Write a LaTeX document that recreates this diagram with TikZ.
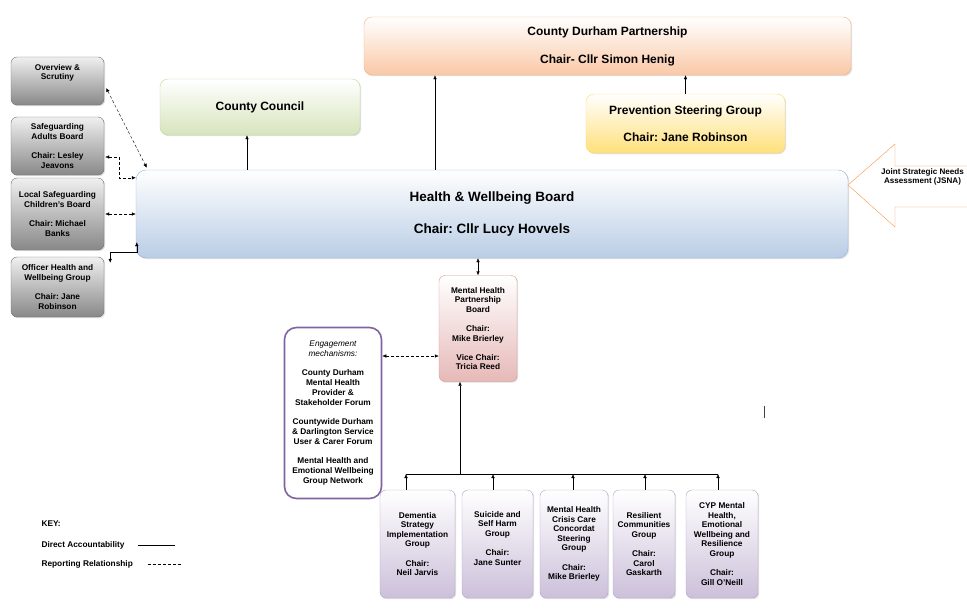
\documentclass[tikz,border=0pt]{standalone}
\usepackage{fontspec}
\setmainfont{Liberation Sans}
\usepackage{tikz}
\usetikzlibrary{arrows.meta, positioning, calc, shadows}
\frenchspacing
\definecolor{hwbblue}{HTML}{B9CDE5}
\definecolor{hwbline}{HTML}{95B3D7}
\definecolor{ccgreen}{HTML}{D7E4BD}
\definecolor{ccline}{HTML}{C3D69B}
\definecolor{cdporange}{HTML}{FAC8A6}
\definecolor{cdpline}{HTML}{F4B183}
\definecolor{psgyellow}{HTML}{FFE07A}
\definecolor{psgline}{HTML}{FFD966}
\definecolor{mhpink}{HTML}{E6B9B8}
\definecolor{mhline}{HTML}{D99694}
\definecolor{grpurple}{HTML}{CCC0DA}
\definecolor{grline}{HTML}{B3A2C7}
\definecolor{engpurple}{HTML}{8064A2}
\definecolor{sidegrey}{HTML}{888888}
\definecolor{sideline}{HTML}{6E6E6E}
\definecolor{jsnaorange}{HTML}{F79646}

\begin{document}
\begin{tikzpicture}[x=1pt, y=-1pt,
  box/.style={draw, rounded corners=6pt, inner sep=1pt, align=center,
    font=\bfseries\fontsize{8.3}{9.6}\selectfont},
  soft/.style={drop shadow={opacity=0.25, shadow xshift=1.2pt, shadow yshift=-1.2pt}},
  side/.style={box, soft, draw=sideline, top color=white!94!black,
    bottom color=sidegrey, minimum width=93pt},
  group/.style={box, soft, draw=grline, top color=white, bottom color=grpurple,
    minimum height=108pt},
  big/.style={box, soft, rounded corners=8pt, font=\bfseries\fontsize{12}{14}\selectfont},
  txt/.style={font=\bfseries\fontsize{8.3}{9.6}\selectfont, align=center},
  dashline/.style={dash pattern=on 3pt off 2pt},
  >={Latex[length=4pt,width=3.5pt]}
]
  \useasboundingbox (0,0) rectangle (967,613);

  % top row
  \node[big, draw=cdpline, top color=white, bottom color=cdporange,
    minimum width=487pt, minimum height=58pt] (cdp) at (607.5,46)
    {County Durham Partnership\\[14pt]Chair- Cllr Simon Henig};
  \node[big, draw=ccline, top color=white, bottom color=ccgreen,
    minimum width=200pt, minimum height=56pt] (cc) at (260,107) {County Council};
  \node[big, draw=psgline, top color=white, bottom color=psgyellow,
    minimum width=199pt, minimum height=59pt] (psg) at (685.5,123.5)
    {Prevention Steering Group\\[13pt]Chair: Jane Robinson};

  % health and wellbeing board
  \node[box, soft, draw=hwbline, top color=white, bottom color=hwbblue, rounded corners=10pt,
    minimum width=712pt, minimum height=88pt,
    font=\bfseries\fontsize{13.5}{16}\selectfont] (hwb) at (492,214)
    {Health \& Wellbeing Board\\[16pt]Chair: Cllr Lucy Hovvels};

  \coordinate (ccfoot) at ($(cc.south)+(-13,0)$);
  \draw[->] (ccfoot |- hwb.north) -- (ccfoot);
  \coordinate (cdpfoot) at ($(hwb.north)+(-57,0)$);
  \draw[->] (cdpfoot) -- (cdpfoot |- cdp.south);
  \draw[->] (psg.north) -- (psg.north |- cdp.south);

  % JSNA arrow
  \draw[draw=jsnaorange, fill=white] (967,166) -- (895,166) -- (895,144) -- (848,185)
    -- (895,227) -- (895,207) -- (967,207);
  \node[txt, font=\bfseries\fontsize{8.1}{9.6}\selectfont] (jsna) at (922.5,177)
    {Joint Strategic Needs\\Assessment (JSNA)};

  % side boards
  \node[side, minimum height=48pt] (ovw) at (57.5,81) {};
  \node[txt, below=4pt of ovw.north] (ovwtxt) {Overview \&\\Scrutiny};
  \node[side, minimum height=58pt] (sab) at (57.5,146)
    {Safeguarding\\Adults Board\\[9.6pt]Chair: Lesley\\Jeavons};
  \node[side, minimum height=72pt] (lscb) at (57.5,214)
    {Local Safeguarding\\Children's Board\\[9.6pt]Chair: Michael\\Banks};
  \node[side, minimum height=60pt] (ohwg) at (57.5,287)
    {Officer Health and\\Wellbeing Group\\[9.6pt]Chair: Jane\\Robinson};

  \draw[<->, dashline] ($(ovw.east)+(2,7)$) -- ($(hwb.north west)+(11,-2)$);
  \draw[<->, dashline] ($(sab.east)+(1,11)$) -| ($(hwb.north west)+(-17,8)$)
    -- ($(hwb.north west)+(0,8)$);
  \draw[<->, dashline] ($(lscb.east)+(1,0)$) -- (lscb.east -| hwb.west);
  \draw[<->] ($(ohwg.north east)+(6,6)$) |- ($(hwb.south west)+(1,-6)$)
    -- ($(hwb.south west)+(1,-16)$);

  % mental health partnership board
  \node[box, soft, draw=mhline, top color=white, bottom color=mhpink,
    minimum width=78pt, minimum height=106pt] (mhpb) at (478,328.5)
    {Mental Health\\Partnership\\Board\\[9.6pt]Chair:\\Mike Brierley\\[9.6pt]Vice Chair:\\Tricia Reed};
  \draw[<->] (hwb.south -| mhpb.north) -- (mhpb.north);

  % engagement
  \node[box, draw=engpurple, line width=1.6pt, fill=white, rounded corners=12pt,
    minimum width=97pt, minimum height=171pt,
    font=\bfseries\fontsize{8.3}{9.8}\selectfont] (eng) at (333,413)
    {\mdseries\itshape Engagement\\\mdseries\itshape mechanisms:\\[9.8pt]County Durham\\Mental Health\\Provider \&\\Stakeholder Forum\\[9.8pt]Countywide Durham\\\& Darlington Service\\User \& Carer Forum\\[9.8pt]Mental Health and\\Emotional Wellbeing\\Group Network};
  \coordinate (engtip) at ($(mhpb.west)+(0,27.5)$);
  \draw[<->, dashline] (engtip -| eng.east) -- (engtip);

  % groups
  \node[group, minimum width=75pt] (dsig) at (417.5,544)
    {Dementia\\Strategy\\Implementation\\Group\\[9.6pt]Chair:\\Neil Jarvis};
  \node[group, minimum width=71pt] (ssh) at (497.5,544) {};
  \node[txt, below=18pt of ssh.north] (sshtxt)
    {Suicide and\\Self Harm\\Group\\[9.6pt]Chair:\\Jane Sunter};
  \node[group, minimum width=68pt] (crisis) at (574,544)
    {Mental Health\\Crisis Care\\Concordat\\Steering\\Group\\[9.6pt]Chair:\\Mike Brierley};
  \node[group, minimum width=62pt] (rcg) at (644,544)
    {Resilient\\Communities\\Group\\[9.6pt]Chair:\\Carol\\Gaskarth};
  \node[group, minimum width=72pt] (cyp) at (722,544)
    {CYP Mental\\Health,\\Emotional\\Wellbeing and\\Resilience\\Group\\[9.6pt]Chair:\\Gill O'Neill};

  \coordinate (bus) at (460,474);
  \coordinate (busleft) at ($(dsig.north)+(-11.5,0)$);
  \coordinate (busright) at ($(cyp.north)+(-4,0)$);
  \foreach \n/\s in {dsig/-11.5, ssh/-4.5, crisis/-1, rcg/1, cyp/-4}
    \draw[->] ($(\n.north)+(\s,0)$) -- ($(\n.north |- bus)+(\s,0)$);
  \draw (busleft |- bus) -- (busright |- bus);
  \draw[->] (bus) -- (bus |- mhpb.south);

  % stray mark
  \coordinate (mark1) at (764,406);
  \coordinate (mark2) at (764,418);
  \draw[line width=1pt, black!75] (mark1) -- (mark2);

  % key
  \node[txt, anchor=west] (key) at (38,524) {KEY:};
  \node[txt, anchor=west] (kdirect) at (38,545) {Direct Accountability};
  \node[txt, anchor=west] (kreport) at (38,564) {Reporting Relationship};
  \coordinate (kd1) at (138,545);
  \coordinate (kd2) at (175,545);
  \coordinate (kr1) at (148,564);
  \coordinate (kr2) at (181,564);
  \draw (kd1) -- (kd2);
  \draw[dashline] (kr1) -- (kr2);
\end{tikzpicture}
\end{document}
